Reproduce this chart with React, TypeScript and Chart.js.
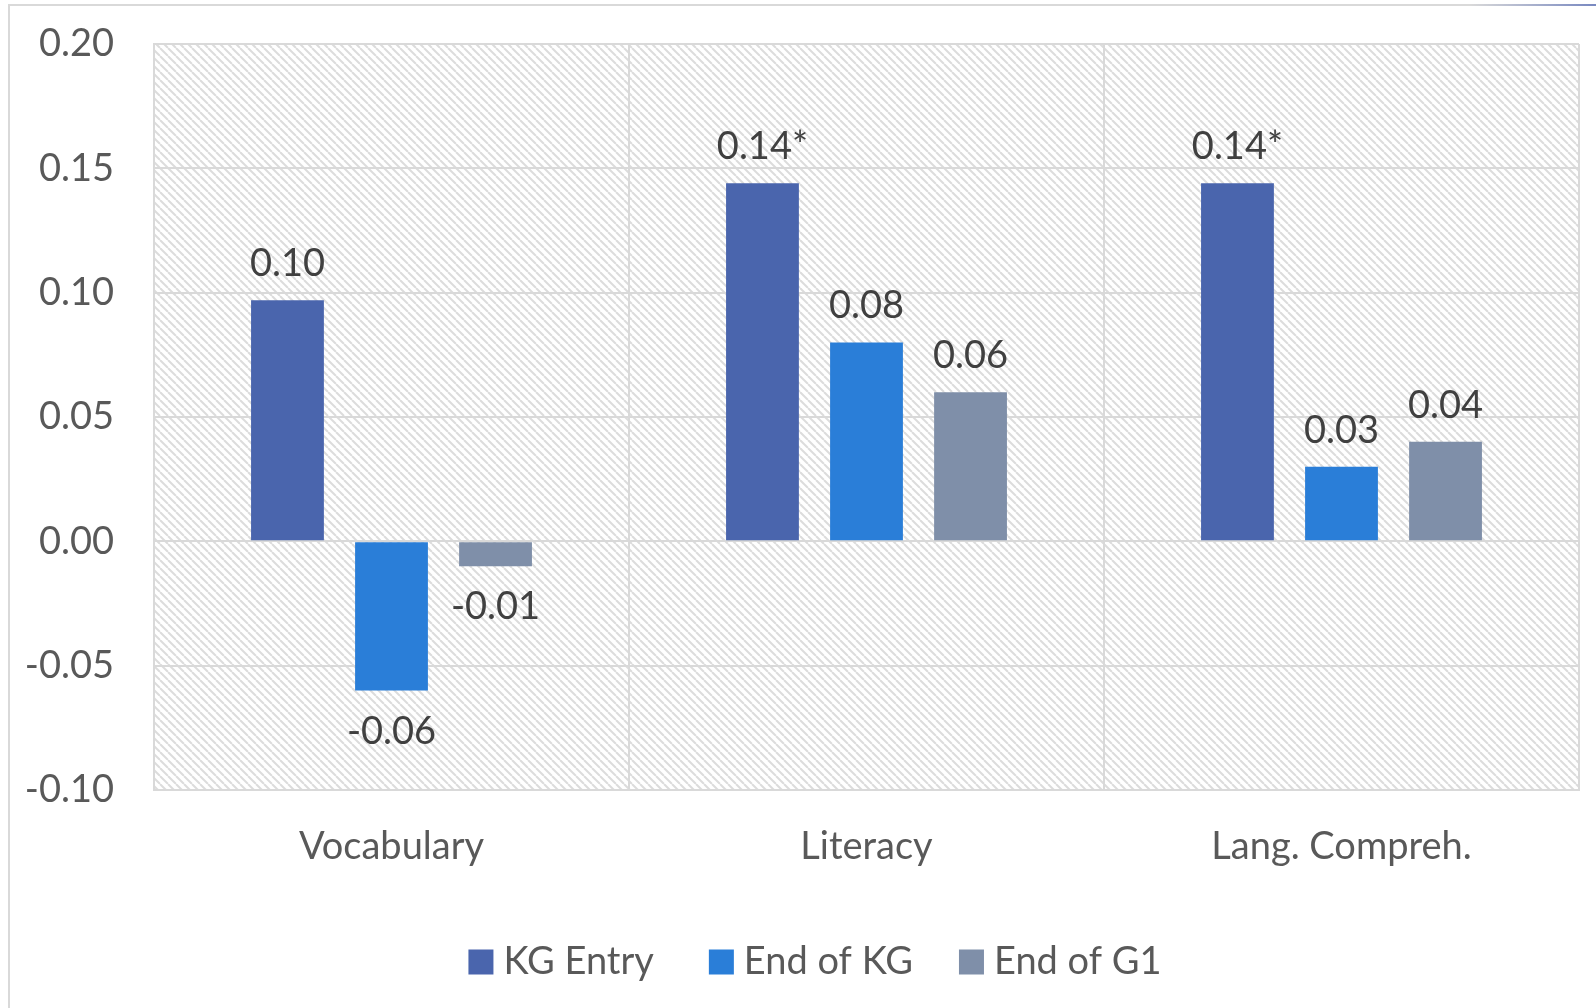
import React, { useEffect, useRef } from "react";
import { Chart, registerables } from "chart.js";

Chart.register(...registerables);

const categories = ["Vocabulary", "Literacy", "Lang. Compreh."];
const seriesNames = ["KG Entry", "End of KG", "End of G1"];
const kgEntry = [0.097, 0.144, 0.144];
const endOfKG = [-0.06, 0.08, 0.03];
const endOfG1 = [-0.01, 0.06, 0.04];
const kgEntryLabels = ["0.10", "0.14*", "0.14*"];
const endOfKGLabels = ["-0.06", "0.08", "0.03"];
const endOfG1Labels = ["-0.01", "0.06", "0.04"];
const yTicks = [-0.1, -0.05, 0, 0.05, 0.1, 0.15, 0.2];
const seriesColors = ["#4A65AD", "#2A7ED8", "#7F8FA9"];

const FONT = "Lato, 'Open Sans', sans-serif";
const FONT_SIZE = 38;
const AXIS_COLOR = "#595959";
const LABEL_COLOR = "#404040";
const GRID_COLOR = "#d9d9d9";

function makePattern(ctx: CanvasRenderingContext2D) {
  const size = 8;
  const c = document.createElement("canvas");
  c.width = size;
  c.height = size;
  const p = c.getContext("2d")!;
  p.fillStyle = "#ffffff";
  p.fillRect(0, 0, size, size);
  p.strokeStyle = "#dcdcdc";
  p.lineWidth = 2;
  for (const k of [-size, 0, size]) {
    p.beginPath();
    p.moveTo(k, 0);
    p.lineTo(k + size, size);
    p.stroke();
  }
  return ctx.createPattern(c, "repeat")!;
}

const backgroundPlugin = {
  id: "bgPattern",
  beforeDraw(chart: any) {
    const { ctx, chartArea, width } = chart;
    ctx.save();
    ctx.fillStyle = "#ffffff";
    ctx.fillRect(0, 0, chart.width, chart.height);
    // outer frame lines (left and top)
    ctx.fillStyle = GRID_COLOR;
    ctx.fillRect(8, 4, 2, chart.height - 4);
    const g = ctx.createLinearGradient(1470, 0, width, 0);
    g.addColorStop(0, GRID_COLOR);
    g.addColorStop(1, "#7888c0");
    ctx.fillStyle = g;
    ctx.fillRect(8, 4, width - 8, 2);
    // hatched plot area
    ctx.fillStyle = makePattern(ctx);
    ctx.fillRect(
      chartArea.left,
      chartArea.top,
      chartArea.right - chartArea.left,
      chartArea.bottom - chartArea.top
    );
    ctx.restore();
  },
};

const dataLabelPlugin = {
  id: "dataLabels",
  afterDatasetsDraw(chart: any) {
    const { ctx } = chart;
    ctx.save();
    ctx.font = `${FONT_SIZE}px ${FONT}`;
    ctx.fillStyle = LABEL_COLOR;
    ctx.textAlign = "center";
    ctx.textBaseline = "alphabetic";
    chart.data.datasets.forEach((ds: any, i: number) => {
      const meta = chart.getDatasetMeta(i);
      meta.data.forEach((el: any, j: number) => {
        const v = ds.data[j];
        const txt = ds.valueLabels[j];
        const { x, y } = el.getProps(["x", "y"], true);
        if (v >= 0) ctx.fillText(txt, x, y - 24);
        else ctx.fillText(txt, x, y + 53);
      });
    });
    ctx.restore();
  },
};

const legendPlugin = {
  id: "customLegend",
  afterDraw(chart: any) {
    const { ctx } = chart;
    ctx.save();
    ctx.font = `${FONT_SIZE}px ${FONT}`;
    const box = 25;
    const boxGap = 10;
    const itemGaps = [55, 46];
    const widths = seriesNames.map((n) => ctx.measureText(n).width);
    const total =
      widths.reduce((a, w) => a + box + boxGap + w, 0) +
      itemGaps.reduce((a, g) => a + g, 0);
    let x = 815 - total / 2;
    const cy = 962;
    seriesNames.forEach((n, i) => {
      ctx.fillStyle = seriesColors[i];
      ctx.fillRect(x, cy - box / 2, box, box);
      ctx.fillStyle = AXIS_COLOR;
      ctx.textAlign = "left";
      ctx.textBaseline = "middle";
      ctx.fillText(n, x + box + boxGap, cy);
      x += box + boxGap + widths[i] + (itemGaps[i] || 0);
    });
    ctx.restore();
  },
};

export default function App() {
  const ref = useRef<HTMLCanvasElement | null>(null);

  useEffect(() => {
    if (!ref.current) return;
    const values = [kgEntry, endOfKG, endOfG1];
    const valueLabels = [kgEntryLabels, endOfKGLabels, endOfG1Labels];
    const chart = new Chart(ref.current, {
      type: "bar",
      data: {
        labels: categories,
        datasets: seriesNames.map((name, i) => ({
          label: name,
          data: values[i],
          valueLabels: valueLabels[i],
          backgroundColor: seriesColors[i],
          borderWidth: 0,
          categoryPercentage: 0.657,
          barPercentage: 0.7,
        })) as any,
      },
      options: {
        animation: false,
        responsive: true,
        maintainAspectRatio: false,
        layout: { padding: { top: 44, right: 17, left: 0, bottom: 0 } },
        plugins: {
          legend: { display: false },
          tooltip: { enabled: false },
        },
        scales: {
          x: {
            grid: {
              color: GRID_COLOR,
              lineWidth: 2,
              offset: true,
              drawTicks: false,
            },
            border: { display: true, color: GRID_COLOR, width: 2 },
            ticks: {
              color: AXIS_COLOR,
              font: { family: FONT, size: FONT_SIZE },
              padding: 34,
            },
            afterFit: (s: any) => {
              s.height = 218;
              s.paddingLeft = 0;
              s.paddingRight = 0;
            },
          },
          y: {
            min: -0.1,
            max: 0.2,
            grid: { color: GRID_COLOR, lineWidth: 2, drawTicks: false },
            border: { display: true, color: GRID_COLOR, width: 2 },
            ticks: {
              color: AXIS_COLOR,
              font: { family: FONT, size: FONT_SIZE },
              padding: 40,
              callback: (v: any) => {
                const n = Number(v);
                return Math.abs(n) < 1e-9 ? "0.00" : n.toFixed(2);
              },
            },
            afterBuildTicks: (s: any) => {
              s.ticks = yTicks.map((v) => ({ value: v }));
            },
            afterFit: (s: any) => {
              s.width = 154;
              s.paddingTop = 0;
              s.paddingBottom = 0;
            },
          },
        },
      },
      plugins: [backgroundPlugin, dataLabelPlugin, legendPlugin],
    });
    return () => chart.destroy();
  }, []);

  return (
    <div
      style={{
        position: "fixed",
        left: 0,
        top: 0,
        width: 1596,
        height: 1008,
        background: "#ffffff",
      }}
    >
      <canvas ref={ref} />
    </div>
  );
}
